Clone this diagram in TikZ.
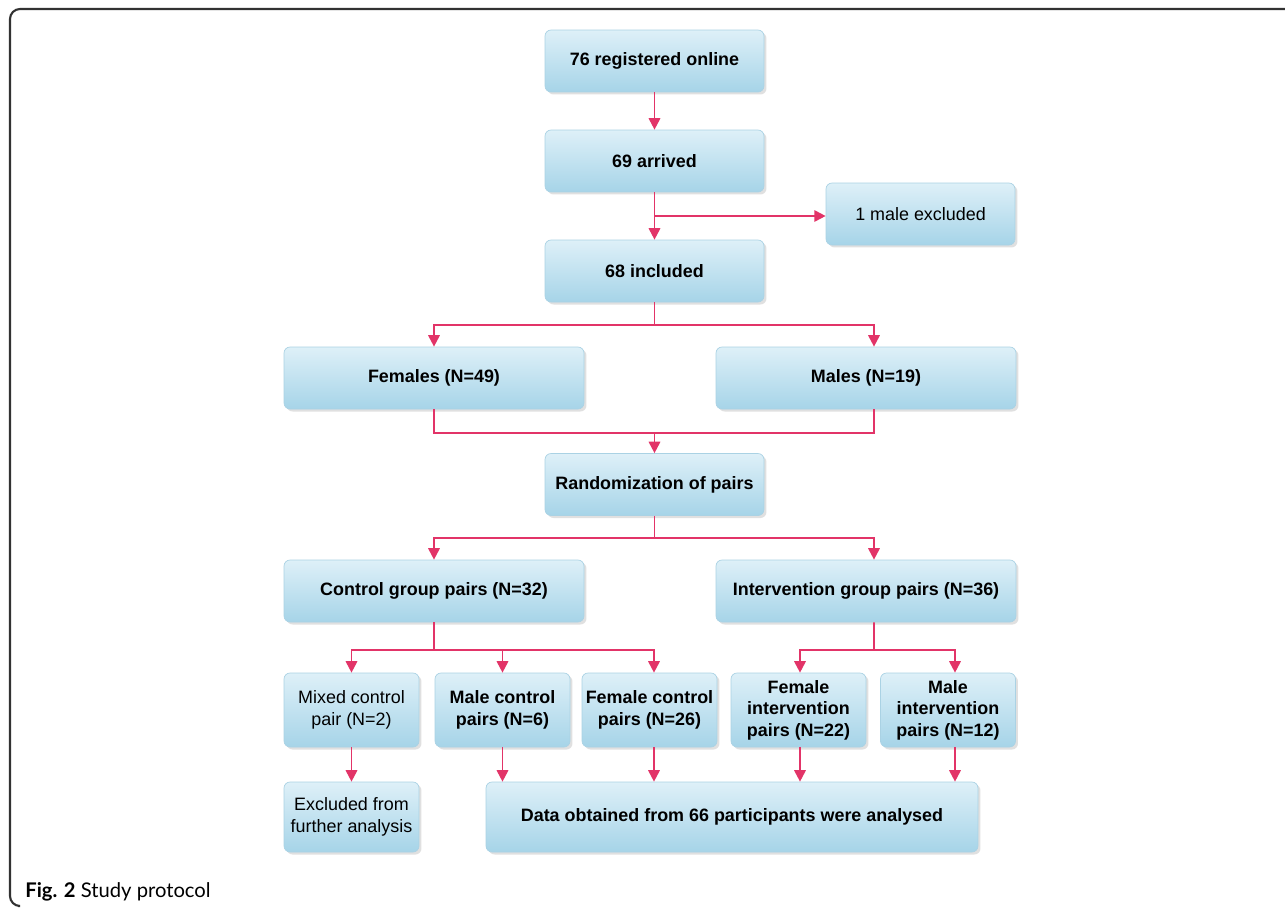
\documentclass[tikz,border=0pt]{standalone}
\usepackage{fontspec}
\setmainfont{Liberation Sans}
\newfontfamily\capfont{Lato}
\usetikzlibrary{arrows.meta,shadows,calc}
\definecolor{arrowc}{RGB}{226,52,104}
\definecolor{boxtop}{RGB}{222,240,248}
\definecolor{boxbot}{RGB}{166,212,232}
\definecolor{boxedge}{RGB}{170,210,228}
\definecolor{framec}{RGB}{50,50,50}
\tikzset{
  box/.style={rectangle, rounded corners=0.12cm, draw=boxedge, line width=0.4pt,
    top color=boxtop, bottom color=boxbot,
    drop shadow={shadow xshift=0.05cm, shadow yshift=-0.05cm, opacity=0.2, fill=black!60},
    font=\fontsize{10.2}{12.2}\selectfont\bfseries, align=center, inner sep=0pt},
  plain/.style={font=\fontsize{10.2}{12.2}\selectfont\mdseries},
  wide/.style={minimum width=4.38cm, minimum height=1.24cm},
  half/.style={minimum width=6.0cm, minimum height=1.24cm},
  small/.style={minimum width=2.7cm, minimum height=1.48cm},
  conn/.style={draw=arrowc, line width=1.1pt},
  arr/.style={conn, -{Triangle[length=6.5pt,width=6.5pt]}},
}
\begin{document}
\begin{tikzpicture}[x=0.02cm,y=-0.02cm]
\useasboundingbox (0,0) rectangle (1285,910);
\fill[white] (0,0) rectangle (1285,910);
% frame
\draw[framec, line width=1.2pt, rounded corners=0.2cm] (1290,9) -- (10,9) -- (10,906) -- (18,906);
% nodes
\node[box, wide] (reg) at (654.5,61) {76 registered online};
\node[box, wide] (arr) at (654.5,161) {69 arrived};
\node[box, plain, minimum width=3.78cm, minimum height=1.24cm] (exm) at (920.5,214) {1 male excluded};
\node[box, wide] (inc) at (654.5,271) {68 included};
\node[box, half] (fem) at (434,378) {Females (N=49)};
\node[box, half] (mal) at (866,378) {Males (N=19)};
\node[box, wide] (rnd) at (654.5,484.5) {Randomization of pairs};
\node[box, half] (ctl) at (434,591) {Control group pairs (N=32)};
\node[box, half] (itv) at (866,591) {Intervention group pairs (N=36)};
\node[box, small, plain] (mix) at (351.5,710) {Mixed control\\pair (N=2)};
\node[box, small] (mcp) at (502.5,710) {Male control\\pairs (N=6)};
\node[box, small] (fcp) at (649.5,710) {Female control\\pairs (N=26)};
\node[box, small] (fip) at (798.5,710) {Female\\intervention\\pairs (N=22)};
\node[box, small] (mip) at (948,710) {Male\\intervention\\pairs (N=12)};
\node[box, plain, minimum width=2.7cm, minimum height=1.4cm] (exc) at (351.5,817) {Excluded from\\further analysis};
\node[box, minimum width=9.84cm, minimum height=1.4cm] (dat) at (732,817) {Data obtained from 66 participants were analysed};
% connectors
\draw[arr] (reg) -- (arr);
\draw[arr] (arr) -- (inc);
\coordinate (b1) at ($(arr.south)!0.5!(inc.north)$);
\draw[arr] (b1) -- (b1 -| exm.west);
% included -> females/males
\coordinate (s1) at (654.5,325);
\draw[conn] (inc.south) -- (s1);
\draw[arr] (s1) -| (fem.north);
\draw[arr] (s1) -| ([xshift=0.16cm]mal.north);
% join -> randomization
\draw[conn] (fem.south) |- (654.5,433) -| ([xshift=0.16cm]mal.south);
\draw[arr] (654.5,433) -- (rnd.north);
% randomization -> groups
\coordinate (s2) at (654.5,538);
\draw[conn] (rnd.south) -- (s2);
\draw[arr] (s2) -| (ctl.north);
\draw[arr] (s2) -| ([xshift=0.16cm]itv.north);
% control split
\coordinate (s3) at (434,650);
\draw[conn] (ctl.south) -- (s3);
\draw[arr] (s3) -| (mix.north);
\draw[arr] (s3) -| (mcp.north);
\draw[arr] (s3) -| ([xshift=0.09cm]fcp.north);
% intervention split
\coordinate (s4) at (874,650);
\draw[conn] ([xshift=0.16cm]itv.south) -- (s4);
\draw[arr] (s4) -| ([xshift=0.03cm]fip.north);
\draw[arr] (s4) -| ([xshift=0.14cm]mip.north);
% to bottom
\draw[arr] (mix) -- (exc);
\draw[arr] (mcp.south) -- (mcp.south |- dat.north);
\draw[arr] ([xshift=0.09cm]fcp.south) -- ([xshift=0.09cm]fcp.south |- dat.north);
\draw[arr] ([xshift=0.03cm]fip.south) -- ([xshift=0.03cm]fip.south |- dat.north);
\draw[arr] ([xshift=0.14cm]mip.south) -- ([xshift=0.14cm]mip.south |- dat.north);
% caption
\node[anchor=base west, inner sep=0pt, font=\capfont\fontsize{11.5}{13}\selectfont] (cap) at (25,897) {\textbf{Fig. 2} Study protocol};
\end{tikzpicture}
\end{document}
